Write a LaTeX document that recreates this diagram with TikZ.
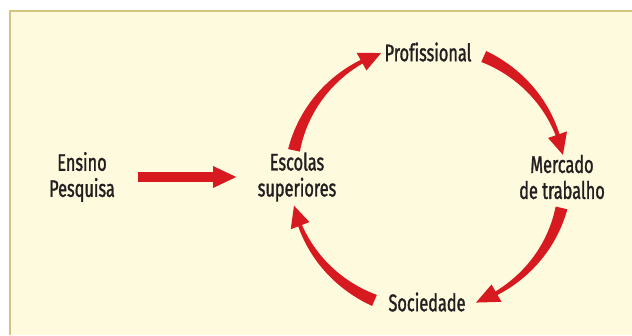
\documentclass[tikz,border=0pt]{standalone}
\usepackage{fontspec}
\usetikzlibrary{arrows.meta}
\newfontfamily\labelfont[FakeStretch=0.68,FakeBold=1.3,Ligatures=NoCommon]{Fira Sans}
\definecolor{cream}{HTML}{FEFADE}
\definecolor{frame}{HTML}{D6C381}
\definecolor{arrowred}{HTML}{D71920}
\definecolor{ink}{HTML}{231F20}
\newcommand\ringarrow[3]{%
  \fill[arrowred]
    plot[domain=#1:#2,samples=30,variable=\t]
      ({428+(137+(12-8*(\t-(#1))/((#2)-(#1)))/2)*cos(\t)},{178-(133+(12-8*(\t-(#1))/((#2)-(#1)))/2)*sin(\t)})
    -- ({428+(137+10)*cos(#2)},{178-(133+10)*sin(#2)})
    -- ({428+137*cos(#3)},{178-133*sin(#3)})
    -- ({428+(137-10)*cos(#2)},{178-(133-10)*sin(#2)})
    -- plot[domain=#2:#1,samples=30,variable=\t]
      ({428+(137-(12-8*(\t-(#1))/((#2)-(#1)))/2)*cos(\t)},{178-(133-(12-8*(\t-(#1))/((#2)-(#1)))/2)*sin(\t)})
    -- cycle;}
\begin{document}
\begin{tikzpicture}[x=1pt,y=-1pt,
  lbl/.style={text=ink,font=\labelfont\fontsize{24}{26}\selectfont,align=center,inner sep=0pt},
  hbar/.style={draw=arrowred,line width=10pt,-{Triangle[length=24pt,width=20pt]}}]
\useasboundingbox (0,0) rectangle (632,335);
\fill[white] (0,0) rectangle (632,335);
\fill[cream] (10,11) rectangle (632,335);
\draw[frame,line width=2pt] (10,335) -- (10,11) -- (632,11);
\node[lbl] (ens) at (82,177) {Ensino\\Pesquisa};
\node[lbl] (esc) at (297,177) {Escolas\\superiores};
\node[lbl] (mer) at (562,177) {Mercado\\de trabalho};
\node[lbl] (pro) at (428,52) {Profissional};
\node[lbl] (soc) at (427,302) {Sociedade};
\draw[hbar] (ens.center) -- (esc.center) [shorten <=56pt, shorten >=60pt];
\ringarrow{168}{119}{110}
\ringarrow{66}{19}{10}
\ringarrow{-13}{-60}{-69.5}
\ringarrow{-113}{-159}{-168}
\end{tikzpicture}
\end{document}
